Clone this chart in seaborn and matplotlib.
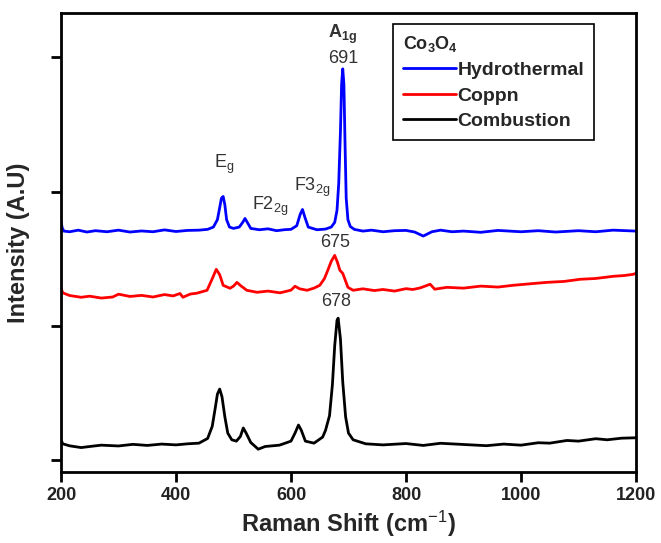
import numpy as np
import pandas as pd
import matplotlib
matplotlib.use("Agg")
import matplotlib.pyplot as plt
import seaborn as sns

# Raman spectra (x in cm-1, y in arbitrary units, curves already offset)
hydro_x = [200, 202, 205, 215, 230, 245, 260, 280, 300, 320, 340, 360, 380, 400, 420, 440, 455, 465,
           472, 476, 479, 482, 485, 488, 493, 500, 510, 516, 520, 524, 530, 545, 560, 575, 590, 600,
           610, 616, 620, 624, 630, 645, 660, 670, 676, 680, 683, 686, 688, 690, 692, 694, 696, 699,
           703, 710, 725, 740, 760, 780, 800, 815, 830, 845, 860, 880, 900, 930, 960, 1000, 1030, 1060,
           1100, 1130, 1160, 1200]
hydro_y = [1780, 1730, 1705, 1700, 1712, 1698, 1708, 1700, 1712, 1698, 1706, 1700, 1714, 1702, 1710, 1712, 1718, 1735,
           1790, 1880, 1950, 1963, 1900, 1790, 1735, 1725, 1735, 1770, 1799, 1770, 1725, 1715, 1722, 1708, 1716, 1718,
           1745, 1830, 1866, 1810, 1735, 1715, 1720, 1735, 1770, 1860, 2060, 2450, 2800, 2914, 2800, 2350, 1950, 1790,
           1740, 1718, 1705, 1712, 1700, 1708, 1710, 1698, 1668, 1700, 1712, 1700, 1705, 1696, 1710, 1700, 1708, 1698,
           1708, 1700, 1712, 1705]

coppn_x = [200, 203, 215, 235, 250, 270, 290, 300, 320, 340, 360, 380, 395, 407, 412, 425, 436, 454,
           462, 470, 476, 482, 494, 500, 506, 512, 523, 541, 560, 581, 600, 607, 615, 628, 640, 650,
           658, 664, 670, 676, 681, 685, 690, 699, 708, 725, 745, 760, 780, 800, 812, 825, 842, 850,
           871, 900, 930, 960, 986, 1015, 1045, 1075, 1103, 1130, 1160, 1180, 1195, 1200]
coppn_y = [1280, 1245, 1225, 1212, 1220, 1206, 1214, 1235, 1218, 1226, 1214, 1232, 1222, 1240, 1212, 1236, 1242, 1264,
           1340, 1420, 1380, 1301, 1279, 1295, 1323, 1300, 1264, 1249, 1258, 1245, 1265, 1294, 1275, 1264, 1280, 1301,
           1350, 1413, 1480, 1524, 1470, 1413, 1390, 1286, 1264, 1275, 1262, 1270, 1258, 1276, 1270, 1282, 1309, 1272,
           1286, 1280, 1295, 1288, 1301, 1312, 1323, 1330, 1346, 1352, 1368, 1374, 1383, 1390]

comb_x = [200, 203, 215, 235, 250, 270, 300, 325, 350, 375, 400, 420, 440, 455, 463, 468, 472, 476,
          480, 485, 490, 497, 505, 512, 517, 522, 530, 543, 555, 580, 600, 607, 613, 618, 625, 640,
          655, 660, 667, 672, 676, 680, 682, 686, 690, 695, 700, 708, 730, 760, 800, 830, 860, 900,
          940, 970, 1000, 1030, 1050, 1080, 1100, 1130, 1150, 1175, 1200]
comb_y = [150, 120, 105, 92, 100, 110, 104, 116, 108, 118, 112, 120, 125, 160, 250, 380, 490, 528,
          470, 320, 200, 150, 140, 175, 238, 200, 130, 80, 100, 110, 140, 200, 260, 220, 140, 125,
          170, 220, 330, 560, 850, 1040, 1056, 900, 580, 320, 200, 150, 120, 112, 122, 108, 124, 115,
          106, 118, 110, 128, 125, 145, 140, 158, 150, 162, 165]

series_names = ["Hydrothermal", "Coppn", "Combustion"]
series_colors = ["#0000ff", "#ff0000", "#000000"]

sns.set_style("ticks")
plt.rcParams["font.family"] = ["Liberation Sans", "DejaVu Sans"]
plt.rcParams["mathtext.fontset"] = "custom"
plt.rcParams["mathtext.rm"] = "Liberation Sans"
plt.rcParams["mathtext.it"] = "Liberation Sans"
plt.rcParams["mathtext.bf"] = "Liberation Sans:bold"

fig = plt.figure(figsize=(6.61, 5.43), dpi=100)
ax = fig.add_axes([61 / 661, 71 / 543, 575 / 661, 459 / 543])

for name, xs, ys, col in zip(series_names, [hydro_x, coppn_x, comb_x], [hydro_y, coppn_y, comb_y], series_colors):
    df = pd.DataFrame({"x": xs, "y": ys})
    sns.lineplot(data=df, x="x", y="y", color=col, lw=2, label=name, ax=ax, estimator=None, sort=False)

ax.set_xlim(200, 1200)
ax.set_ylim(-90, 3330)
ax.set_xticks([200, 400, 600, 800, 1000, 1200])
ax.set_yticks([0, 1000, 2000, 3000])
ax.set_yticklabels([])
for lab in ax.get_xticklabels():
    lab.set_fontweight("bold")
    lab.set_fontsize(13)
    lab.set_color("#222222")
ax.tick_params(axis="both", direction="out", length=7, width=2, color="black")
for sp in ax.spines.values():
    sp.set_visible(True)
    sp.set_linewidth(2)
    sp.set_color("black")

ax.set_xlabel("Raman Shift (cm$^{-1}$)", fontsize=17, fontweight="bold", labelpad=4)
ax.set_ylabel("Intensity (A.U)", fontsize=17, fontweight="bold", labelpad=12)

# peak annotations
txt = dict(ha="center", va="center", color="#333333", fontsize=13)
ax.text(689, 3170, "A$_{\\mathbf{1g}}$", fontweight="bold", **txt)
ax.text(690, 2990, "691", **txt)
ax.text(483, 2200, "E$_{\\mathrm{g}}$", **txt)
ax.text(563, 1890, "F2$_{\\mathrm{2g}}$", **txt)
ax.text(637, 2030, "F3$_{\\mathrm{2g}}$", **txt)
ax.text(676, 1620, "675", **txt)
ax.text(679, 1180, "678", **txt)

leg = ax.legend(title="Co$_{\\mathbf{3}}$O$_{\\mathbf{4}}$", loc="upper right", bbox_to_anchor=(0.927, 0.976),
                borderaxespad=0, frameon=True, fancybox=False, edgecolor="black", framealpha=1,
                handlelength=2.7, handletextpad=0.1, borderpad=0.5, labelspacing=0.4,
                prop={"weight": "bold", "size": 14})
leg.get_frame().set_linewidth(1.2)
leg.get_title().set_fontweight("bold")
leg.get_title().set_fontsize(13)
leg._legend_box.align = "left"

fig.savefig("out.png", dpi=100)
